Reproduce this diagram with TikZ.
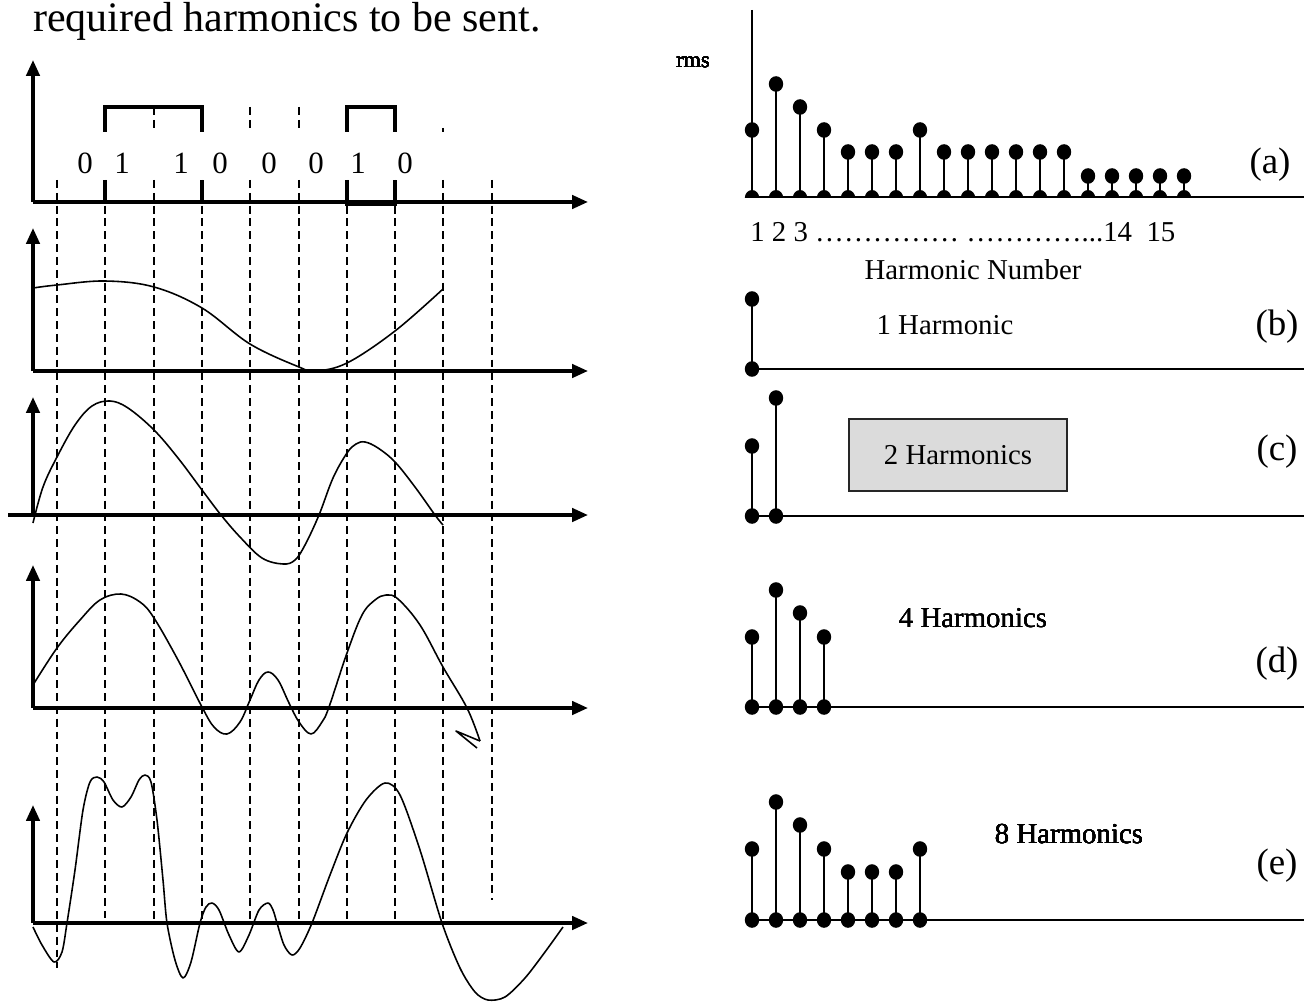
\documentclass[tikz,border=0pt]{standalone}
\usepackage{fontspec}
\setmainfont{Liberation Serif}
\usetikzlibrary{arrows.meta}
\newcommand\hstem[3]{%
  \draw[stemline] (#1,#2)--(#1,#2-#3);
  \fill (#1,#2-#3) ellipse[x radius=7.2,y radius=7.8];
  \fill (#1,#2) ellipse[x radius=7.2,y radius=7.8];}
\newcommand\hstemhalf[3]{%
  \draw[stemline] (#1,#2)--(#1,#2-#3);
  \fill (#1,#2-#3) ellipse[x radius=7.2,y radius=7.8];
  \fill (#1-7.2,#2+1) arc[start angle=180,end angle=360,x radius=7.2,y radius=8] -- cycle;}
\begin{document}
\begin{tikzpicture}[x=0.02cm,y=-0.02cm,
  axis/.style={line width=2pt,-{Triangle[length=9pt,width=7.5pt]}},
  wave/.style={line width=2.3pt},
  grid/.style={line width=1.2pt,dash pattern=on 4.5pt off 2.8pt},
  curve/.style={line width=0.9pt,line join=round},
  stemline/.style={line width=1.1pt},
  base/.style={line width=0.9pt},
  lbl/.style={inner sep=0pt},
  bit/.style={inner sep=0pt,font=\fontsize{17.6}{20}\selectfont},
  hlab/.style={inner sep=0pt,font=\fontsize{16.4}{19}\selectfont},
  tag/.style={inner sep=0pt,font=\fontsize{21}{24}\selectfont}]
\useasboundingbox (0,0) rectangle (1304,1003);

% title
\node[lbl,anchor=base west,font=\fontsize{23.9}{28}\selectfont] (title) at (33,32) {required harmonics to be sent.};

% dashed guide lines
\foreach \x in {154,250,299} \draw[grid] (\x,107)--(\x,132);
\draw[grid] (443,128)--(443,132);
\foreach \x/\yb in {57/968,105/918,154/923,202/923,250/923,299/923,347/923,395/923,443/923,492/900}
  \draw[grid] (\x,180)--(\x,\yb);

% panel 1: square wave
\draw[axis] (33,202)--(33,60);
\draw[axis] (33,202)--(588,202);
\draw[wave] (105,132)--(105,107)--(202,107)--(202,132);
\draw[wave] (347,132)--(347,107)--(395,107)--(395,132);
\draw[wave] (105,180)--(105,202)--(202,202)--(202,180);
\draw[wave] (347,180)--(347,204)--(395,204)--(395,180);
\foreach \x/\b [count=\i] in {85/0,122/1,181/1,220/0,269/0,316/0,358/1,405/0}
  \node[bit] (bit\i) at (\x,163) {\b};

% panel 2
\draw[axis] (33,371)--(33,228);
\draw[axis] (33,371)--(588,371);
\draw[curve] plot[smooth,tension=0.6] coordinates {(33,288) (57,285) (105,281) (154,287) (202,308) (250,344) (299,367) (315,371) (347,363) (395,331) (443,289)};

% panel 3
\draw[axis] (33,515)--(33,397);
\draw[axis] (8,515)--(588,515);
\draw[curve] plot[smooth,tension=0.6] coordinates {(33,523) (43,487) (57,457) (75,425) (92,406) (110,401) (128,408) (154,430) (178,458) (202,490) (221,515) (240,537) (262,558) (283,564) (295,560) (305,545) (319,515) (333,478) (347,453) (356,444) (365,442) (378,448) (395,462) (415,487) (435,515) (443,525)};

% panel 4
\draw[axis] (33,708)--(33,565);
\draw[axis] (33,708)--(588,708);
\draw[curve] plot[smooth,tension=0.6] coordinates {(33,685) (57,648) (80,620) (100,600) (121,594) (140,602) (154,618) (178,660) (202,707) (214,727) (227,734) (240,722) (250,700) (259,680) (268,672) (278,680) (289,703) (299,722) (311,734) (322,722) (329,707) (347,653) (362,615) (375,600) (386,595) (398,599) (420,625) (443,667) (467,708) (480,741)};
\draw[curve] (480,741)--(456,731)--(477,748);

% panel 5
\draw[axis] (33,923)--(33,805);
\draw[axis] (33,923)--(588,923);
\draw[curve] plot[smooth,tension=0.5] coordinates {(33,927) (42,945) (54,962) (62,952) (67,923) (75,870) (83,810) (90,782) (97,777) (104,782) (113,800) (122,807) (131,797) (139,780) (145,775) (151,782) (157,820) (163,880) (167,923) (175,960) (183,978) (191,962) (200,923) (206,907) (212,903) (219,910) (229,935) (239,952) (249,935) (259,910) (268,903) (273,910) (277,923) (284,945) (292,955) (300,948) (312,923) (330,875) (347,833) (366,800) (385,783) (400,795) (420,850) (442,923) (460,968) (475,992) (488,1000) (505,997) (525,978) (545,952) (563,927)};

% ---------- right side ----------
% (a)
\draw[line width=1pt] (752,10)--(752,197);
\draw[base] (745,197)--(1304,197);
\foreach \h [count=\i, evaluate=\i as \xx using 752+24*(\i-1)] in {67,113,90,67,45,45,45,67,45,45,45,45,45,45,21,21,21,21,21}
  \hstemhalf{\xx}{197}{\h}
\node[lbl,font=\fontsize{12.7}{15}\selectfont] (rms) at (693,62) {rms};
\node[tag] (taga) at (1270,165) {(a)};
\node[hlab,anchor=base west] (nums) at (750,242) {1 2 3 …………… …………...14~~15};
\node[hlab] (hnum) at (973,270) {Harmonic Number};

% (b)
\draw[base] (752,369)--(1304,369);
\hstem{752}{369}{70}
\node[hlab] (hb) at (945,325) {1 Harmonic};
\node[tag] (tagb) at (1277,327) {(b)};

% (c)
\draw[base] (752,516)--(1304,516);
\hstem{752}{516}{70}
\hstem{776}{516}{118}
\node[draw=black!85,fill=black!14,line width=0.8pt,minimum width=4.36cm,minimum height=1.44cm,hlab] (hc) at (958,455) {2 Harmonics};
\node[tag] (tagc) at (1277,452) {(c)};

% (d)
\draw[base] (752,707)--(1304,707);
\foreach \h [count=\i, evaluate=\i as \xx using 752+24*(\i-1)] in {70,117,94,70}
  \hstem{\xx}{707}{\h}
\node[hlab] (hd) at (973,618) {4 Harmonics};
\node[tag] (tagd) at (1277,664) {(d)};

% (e)
\draw[base] (752,920)--(1304,920);
\foreach \h [count=\i, evaluate=\i as \xx using 752+24*(\i-1)] in {71,118,95,71,48,48,48,71}
  \hstem{\xx}{920}{\h}
\node[hlab] (he) at (1069,834) {8 Harmonics};
\node[tag] (tage) at (1277,866) {(e)};
\end{tikzpicture}
\end{document}
